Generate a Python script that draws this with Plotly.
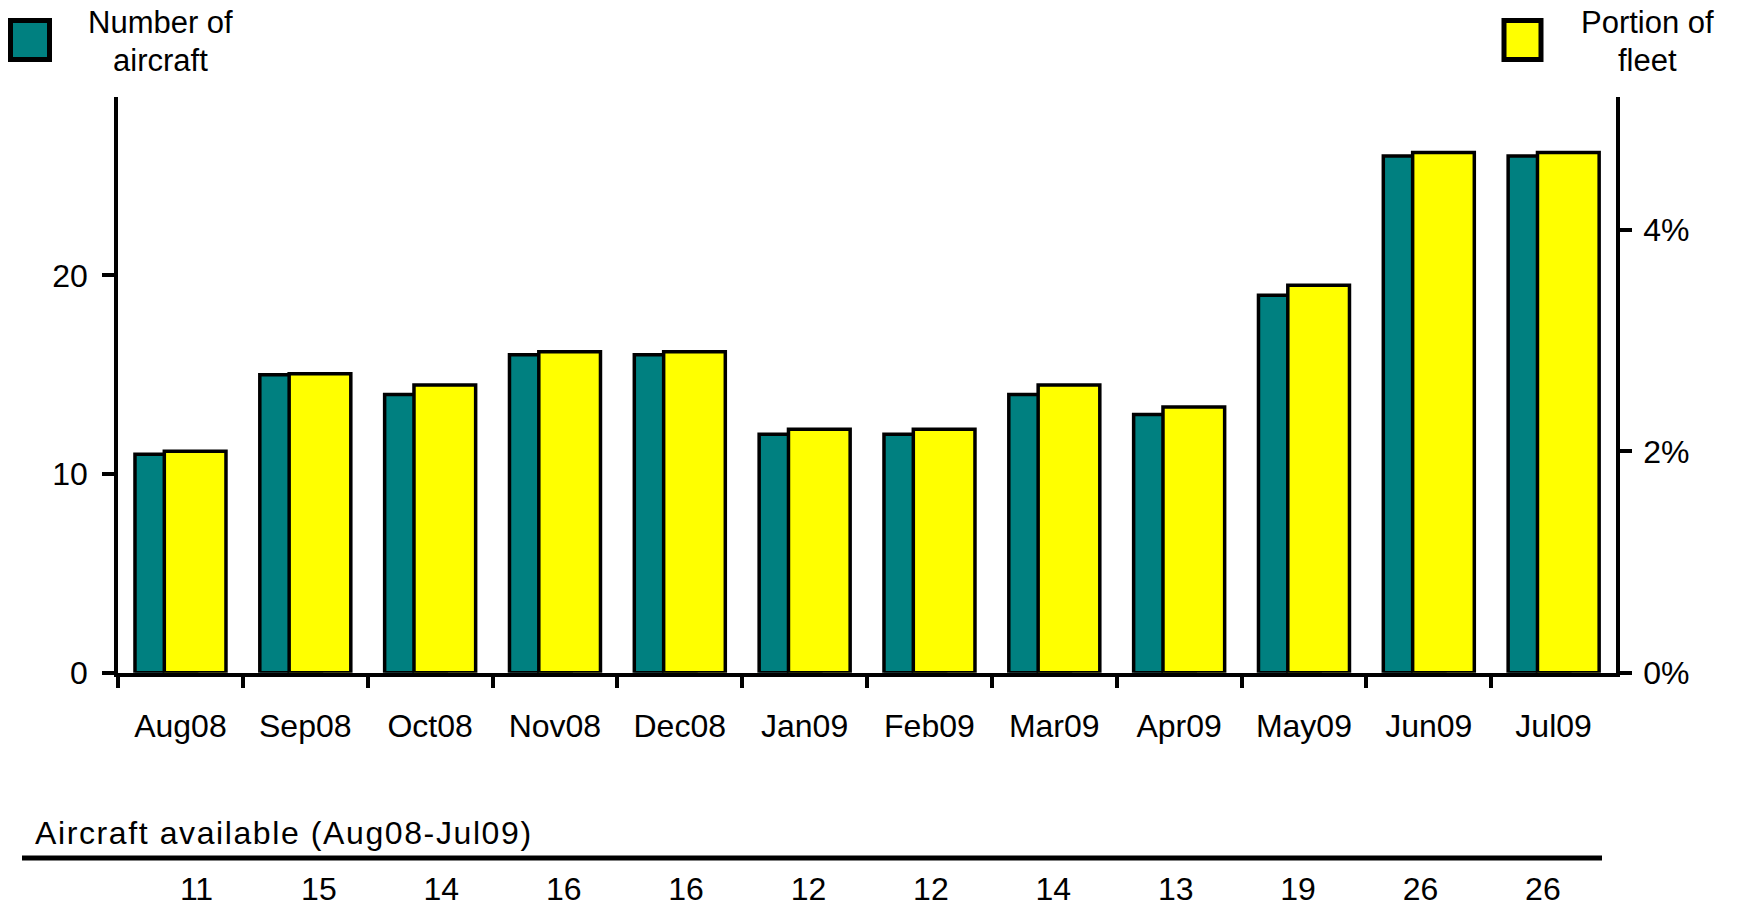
import plotly.graph_objects as go

# Values
months = ["Aug08", "Sep08", "Oct08", "Nov08", "Dec08", "Jan09",
          "Feb09", "Mar09", "Apr09", "May09", "Jun09", "Jul09"]
aircraft = [11, 15, 14, 16, 16, 12, 12, 14, 13, 19, 26, 26]
fleet_share = [0.020, 0.027, 0.026, 0.029, 0.029, 0.022,
               0.022, 0.026, 0.024, 0.035, 0.047, 0.047]
available = [11, 15, 14, 16, 16, 12, 12, 14, 13, 19, 26, 26]

W, H = 1741, 909
OFF = 8  # the page body margin the figure is drawn inside of
TEAL = "#008080"
YELLOW = "#FFFF00"
FONT = "Liberation Sans, Arial, sans-serif"


# page pixel -> paper helpers (figure margins are zero)
def px(x):
    return (x - OFF) / (W - OFF)


def py(y):
    return (H - y) / (H - OFF)


fig = go.Figure()

fig.add_trace(go.Bar(
    x=months, y=aircraft, name="Number of aircraft",
    marker=dict(color=TEAL, line=dict(color="black", width=3.5)),
    offset=-0.364, width=0.494,
    xaxis="x", yaxis="y",
))
fig.add_trace(go.Bar(
    x=months, y=fleet_share, name="Portion of fleet",
    marker=dict(color=YELLOW, line=dict(color="black", width=3.5)),
    offset=-0.129, width=0.494,
    xaxis="x", yaxis="y2",
))

# bottom "table" row
fig.add_trace(go.Scatter(
    x=months, y=[0] * len(months), text=[str(v) for v in available],
    mode="text", textfont=dict(size=32, color="black", family=FONT),
    xaxis="x2", yaxis="y3", hoverinfo="skip",
))

axis_common = dict(
    showline=True, linewidth=3.5, linecolor="black",
    ticks="outside", ticklen=12, tickwidth=3.5, tickcolor="black",
    showgrid=False, zeroline=False, automargin=False,
    tickfont=dict(size=32, color="black", family=FONT),
)

plot_top, plot_bottom = 96.6, 672.7
plot_h = plot_bottom - plot_top

fig.update_layout(
    width=W - OFF, height=H - OFF,
    margin=dict(l=0, r=0, t=0, b=0),
    paper_bgcolor="white", plot_bgcolor="white",
    showlegend=False,
    font=dict(family=FONT, size=32, color="black"),
    xaxis=dict(
        **axis_common,
        domain=[px(118), px(1616)],
        anchor="y",
        type="category",
        range=[-0.5, 11.5],
        tickson="boundaries",
        ticklabelstandoff=22,
    ),
    yaxis=dict(
        **axis_common,
        domain=[py(plot_bottom), py(plot_top)],
        anchor="x",
        range=[0, plot_h / 19.87],
        tickvals=[0, 10, 20],
        ticklabelstandoff=8,
    ),
    yaxis2=dict(
        **axis_common,
        domain=[py(plot_bottom), py(plot_top)],
        anchor="x",
        overlaying="y",
        side="right",
        range=[0, plot_h / 110.7 / 100],
        tickvals=[0, 0.02, 0.04],
        tickformat=".0%",
        ticklabelstandoff=5,
    ),
    xaxis2=dict(
        domain=[px(135.3), px(1604.1)],
        anchor="y3",
        type="category",
        range=[-0.5, 11.5],
        visible=False,
    ),
    yaxis3=dict(
        domain=[0, 2 * py(892)],
        anchor="x2",
        range=[-1, 1],
        visible=False,
    ),
)

# legend boxes
fig.add_shape(type="rect", xref="paper", yref="paper",
              x0=px(10.5), x1=px(49.5), y0=py(20.5), y1=py(59.5),
              fillcolor=TEAL, line=dict(color="black", width=5))
fig.add_shape(type="rect", xref="paper", yref="paper",
              x0=px(1504), x1=px(1541), y0=py(20.5), y1=py(59.5),
              fillcolor=YELLOW, line=dict(color="black", width=5))

legend_lines = [("Number of", 160, 23), ("aircraft", 160, 60),
                ("Portion of", 1647.5, 23), ("fleet", 1647.5, 60)]
for text, cx, cy in legend_lines:
    fig.add_annotation(text=text, xref="paper", yref="paper",
                       x=px(cx), y=py(cy), xanchor="center", yanchor="middle",
                       showarrow=False, font=dict(size=31))

# table header + rule
fig.add_annotation(
    text='<span style="letter-spacing:1.6px">Aircraft available (Aug08-Jul09)</span>',
    xref="paper", yref="paper", x=px(33), y=py(833),
    xanchor="left", yanchor="middle", showarrow=False, font=dict(size=32))
fig.add_shape(type="line", xref="paper", yref="paper",
              x0=px(22), x1=px(1602), y0=py(858), y1=py(858),
              line=dict(color="black", width=5))

fig.write_html("out.html")
